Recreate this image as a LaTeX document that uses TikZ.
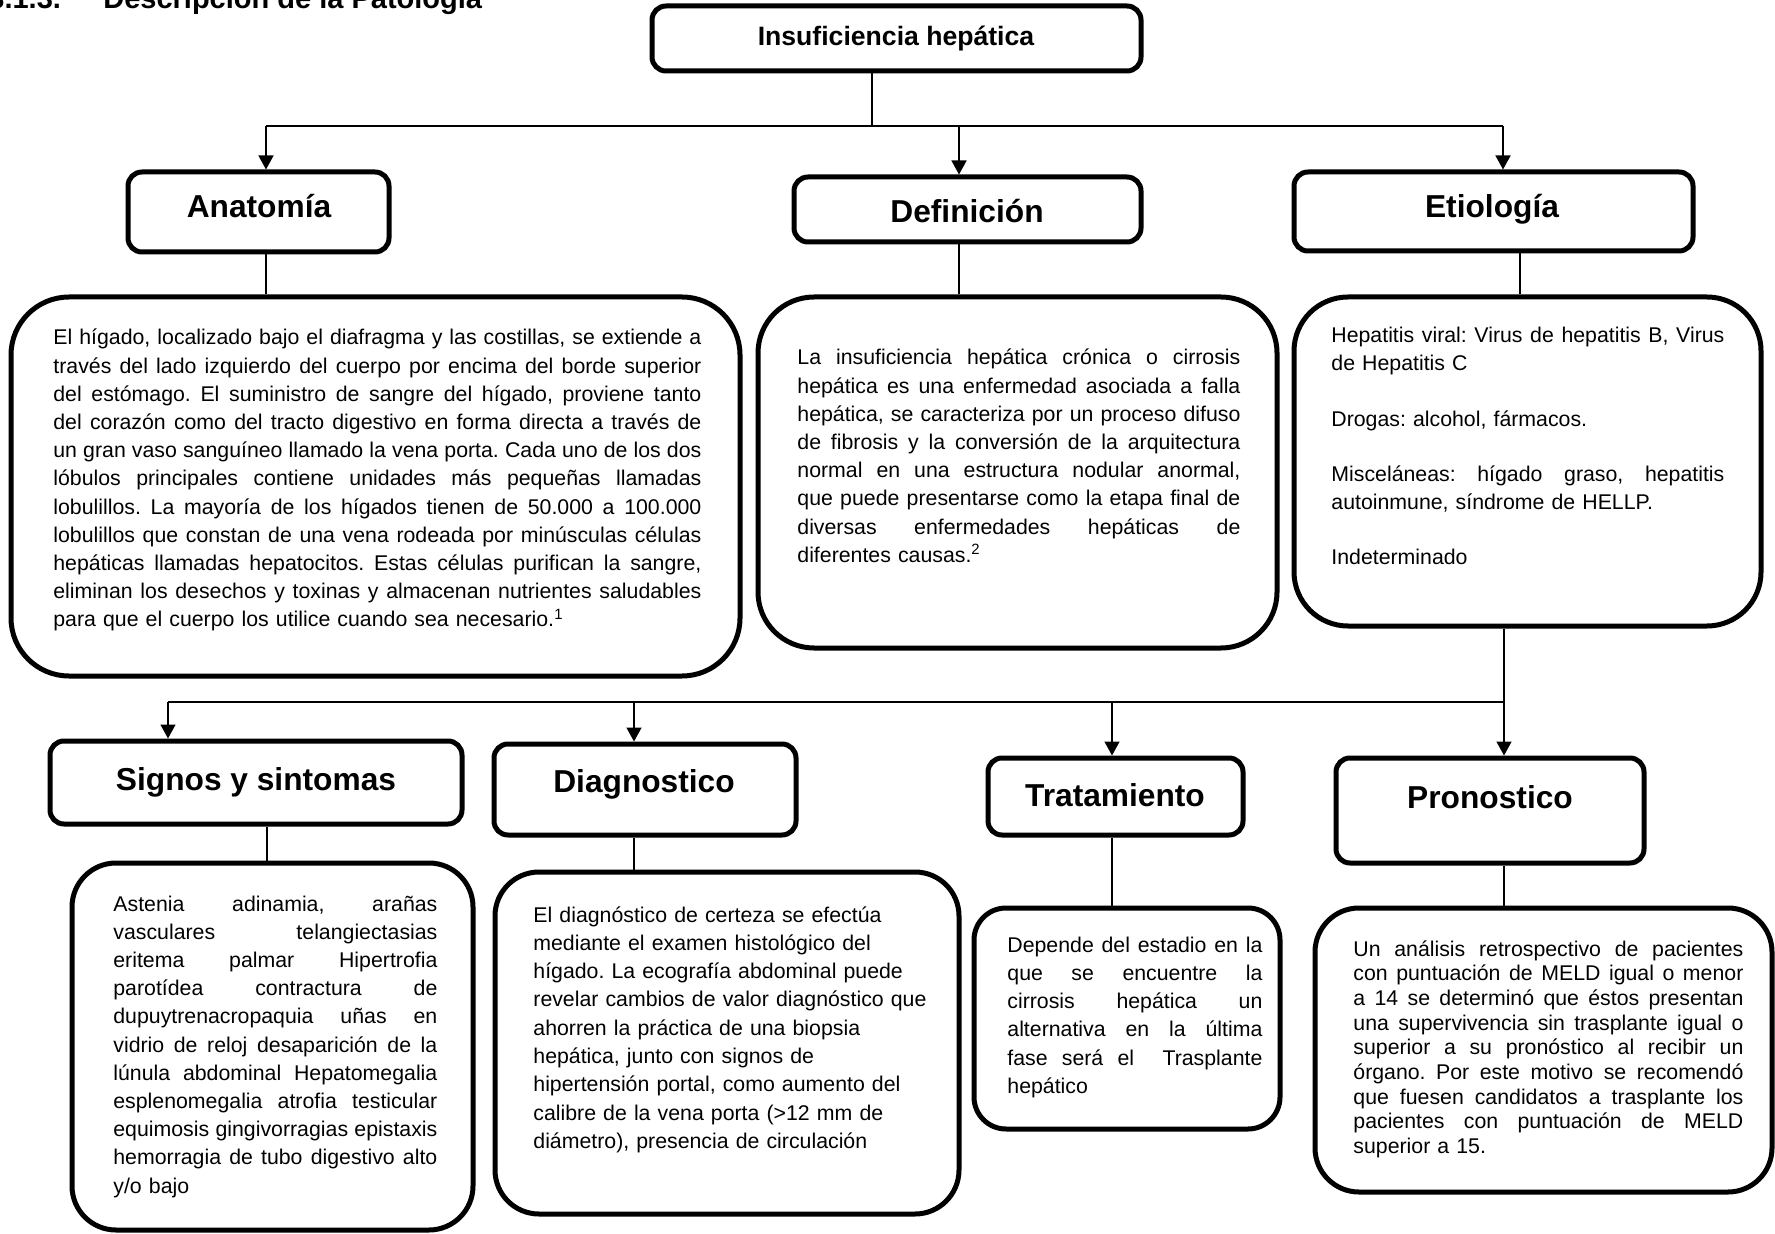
\documentclass[tikz,border=0pt]{standalone}
\usepackage{fontspec}
\setmainfont{Liberation Sans}
\usetikzlibrary{arrows.meta,fit}
\newcommand\jl[1]{\leavevmode\hbox to\hsize{\spaceskip=0pt\xspaceskip=0pt #1}}
\begin{document}
\begin{tikzpicture}[x=0.5pt,y=-0.5pt]
\tikzset{
  box/.style={draw, line width=2.5pt, inner sep=0pt},
  hbox/.style={box, rounded corners=7pt},
  ttl/.style={font=\bfseries\fontsize{15.85}{19}\selectfont, inner sep=0pt, anchor=base},
  body/.style={font=\fontsize{10.65}{14.1}\selectfont\frenchspacing, inner sep=0pt, anchor=base west, align=left},
  conn/.style={line width=0.75pt},
  arr/.style={conn, -{Triangle[width=7.5pt,length=7pt]}},
}
\useasboundingbox (0,0) rectangle (1775,1234);

% section heading (cut at top)
\node[font=\bfseries\fontsize{14.5}{17}\selectfont, anchor=base west, inner sep=0pt] (sec) at (-12,9) {3.1.3.\hspace{21.2pt}Descripción de la Patología};

% header boxes
\node[hbox, fit={(652,6) (1141,71)}] (top) {};
\node[hbox, fit={(128,172) (389,252)}] (anah) {};
\node[hbox, fit={(794,177) (1141,242)}] (defh) {};
\node[hbox, fit={(1294,172) (1693,251)}] (etih) {};
\node[hbox, fit={(50,741) (462,824)}] (sigh) {};
\node[hbox, fit={(494,744) (796,835)}] (diah) {};
\node[hbox, fit={(988,758) (1243,835)}] (trah) {};
\node[hbox, fit={(1336,758) (1644,863)}] (proh) {};

% body boxes
\node[box, rounded corners=29pt, fit={(11,297) (740,676)}] (anab) {};
\node[box, rounded corners=28pt, fit={(758,297) (1277,648)}] (defb) {};
\node[box, rounded corners=27pt, fit={(1294,297) (1761,626)}] (etib) {};
\node[box, rounded corners=22pt, fit={(72,863) (473,1230)}] (sigb) {};
\node[box, rounded corners=22pt, fit={(495,872) (959,1214)}] (diab) {};
\node[box, rounded corners=16pt, fit={(974,908) (1280,1129)}] (trab) {};
\node[box, rounded corners=22pt, fit={(1315,908) (1772,1192)}] (prob) {};

% titles
\node[ttl, font=\bfseries\fontsize{13.3}{16}\selectfont] (topt) at (896,46) {Insuficiencia hepática};
\node[ttl] (anat) at (259,218) {Anatomía};
\node[ttl] (deft) at (967,223) {Definición};
\node[ttl] (etit) at (1492,218) {Etiología};
\node[ttl] (sigt) at (256,790) {Signos y sintomas};
\node[ttl] (diat) at (644,792) {Diagnostico};
\node[ttl] (trat) at (1115,806) {Tratamiento};
\node[ttl] (prot) at (1490,808) {Pronostico};

% body texts
\node[body, text width=324pt] (anatx) at (53,345) {%
\jl{El hígado, localizado bajo el diafragma y las costillas, se extiende a}\\
\jl{través del lado izquierdo del cuerpo por encima del borde superior}\\
\jl{del estómago. El suministro de sangre del hígado, proviene tanto}\\
\jl{del corazón como del tracto digestivo en forma directa a través de}\\
\jl{un gran vaso sanguíneo llamado la vena porta. Cada uno de los dos}\\
\jl{lóbulos principales contiene unidades más pequeñas llamadas}\\
\jl{lobulillos. La mayoría de los hígados tienen de 50.000 a 100.000}\\
\jl{lobulillos que constan de una vena rodeada por minúsculas células}\\
\jl{hepáticas llamadas hepatocitos. Estas células purifican la sangre,}\\
\jl{eliminan los desechos y toxinas y almacenan nutrientes saludables}\\
para que el cuerpo los utilice cuando sea necesario.\textsuperscript{1}};

\node[body, text width=221.5pt] (deftx) at (797,365) {%
\jl{La insuficiencia hepática crónica o cirrosis}\\
\jl{hepática es una enfermedad asociada a falla}\\
\jl{hepática, se caracteriza por un proceso difuso}\\
\jl{de fibrosis y la conversión de la arquitectura}\\
\jl{normal en una estructura nodular anormal,}\\
\jl{que puede presentarse como la etapa final de}\\
\jl{diversas enfermedades hepáticas de}\\
diferentes causas.\textsuperscript{2}};

\node[body, text width=196.5pt, font=\fontsize{10.65}{13.85}\selectfont\frenchspacing] (etitx) at (1331,343) {%
\jl{Hepatitis viral: Virus de hepatitis B, Virus}\\
de Hepatitis C\\[13.85pt]
Drogas: alcohol, fármacos.\\[13.85pt]
\jl{Misceláneas: hígado graso, hepatitis}\\
autoinmune, síndrome de HELLP.\\[13.85pt]
Indeterminado};

\node[body, text width=162pt] (sigtx) at (113,911) {%
\jl{Astenia adinamia, arañas}\\
\jl{vasculares telangiectasias}\\
\jl{eritema palmar Hipertrofia}\\
\jl{parotídea contractura de}\\
\jl{dupuytrenacropaquia uñas en}\\
\jl{vidrio de reloj desaparición de la}\\
\jl{lúnula abdominal Hepatomegalia}\\
\jl{esplenomegalia atrofia testicular}\\
\jl{equimosis gingivorragias epistaxis}\\
\jl{hemorragia de tubo digestivo alto}\\
y/o bajo};

\node[body, text width=205pt, font=\fontsize{10.65}{14.15}\selectfont\frenchspacing] (diatx) at (533,922) {%
El diagnóstico de certeza se efectúa\\
mediante el examen histológico del\\
hígado. La ecografía abdominal puede\\
revelar cambios de valor diagnóstico que\\
ahorren la práctica de una biopsia\\
hepática, junto con signos de\\
hipertensión portal, como aumento del\\
calibre de la vena porta (>12 mm de\\
diámetro), presencia de circulación};

\node[body, text width=127.5pt, font=\fontsize{10.65}{14.15}\selectfont\frenchspacing] (tratx) at (1007,952) {%
\jl{Depende del estadio en la}\\
\jl{que se encuentre la}\\
\jl{cirrosis hepática un}\\
\jl{alternativa en la última}\\
\jl{fase será el \ Trasplante}\\
hepático};

\node[body, text width=195pt, font=\fontsize{10.65}{12.35}\selectfont\frenchspacing] (protx) at (1353,956) {%
\jl{Un análisis retrospectivo de pacientes}\\
\jl{con puntuación de MELD igual o menor}\\
\jl{a 14 se determinó que éstos presentan}\\
\jl{una supervivencia sin trasplante igual o}\\
\jl{superior a su pronóstico al recibir un}\\
\jl{órgano. Por este motivo se recomendó}\\
\jl{que fuesen candidatos a trasplante los}\\
\jl{pacientes con puntuación de MELD}\\
superior a 15.};

% junction coordinates
\coordinate (j1) at (872,126);
\coordinate (a1) at (266,126);
\coordinate (a2) at (959,126);
\coordinate (a3) at (1503,126);
\coordinate (xe) at (1520,0);
\coordinate (xs) at (267,0);
\coordinate (b0) at (1504,702);
\coordinate (b1) at (168,702);
\coordinate (b2) at (634,702);
\coordinate (b3) at (1112,702);

% first level connectors
\draw[conn] (top.south -| j1) -- (j1);
\draw[conn] (a1) -- (a3);
\draw[arr] (a1) -- (anah.north -| a1);
\draw[arr] (a2) -- (defh.north -| a2);
\draw[arr] (a3) -- (etih.north -| a3);

\draw[conn] (anah.south -| a1) -- (anab.north -| a1);
\draw[conn] (defh.south -| a2) -- (defb.north -| a2);
\draw[conn] (etih.south -| xe) -- (etib.north -| xe);

% second level connectors
\draw[conn] (etib.south -| b0) -- (b0) -- (b1);
\draw[arr] (b1) -- (sigh.north -| b1);
\draw[arr] (b2) -- (diah.north -| b2);
\draw[arr] (b3) -- (trah.north -| b3);
\draw[arr] (b0) -- (proh.north -| b0);

\draw[conn] (sigh.south -| xs) -- (sigb.north -| xs);
\draw[conn] (diah.south -| b2) -- (diab.north -| b2);
\draw[conn] (trah.south -| b3) -- (trab.north -| b3);
\draw[conn] (proh.south -| b0) -- (prob.north -| b0);
\end{tikzpicture}
\end{document}
